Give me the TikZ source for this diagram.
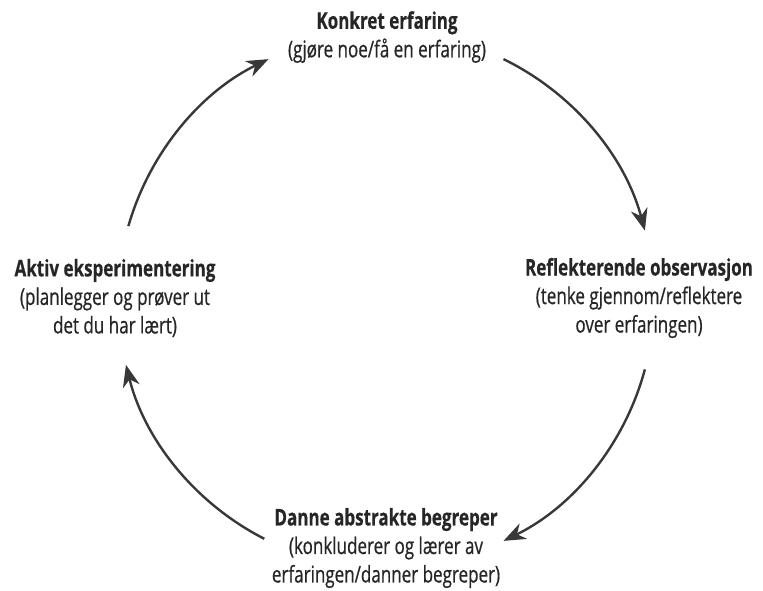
\documentclass[tikz,border=0pt]{standalone}
\usepackage{fontspec}
\setmainfont[FakeStretch=0.74,UprightFeatures={FakeBold=0.6},BoldFeatures={FakeBold=0.5}]{Open Sans}
\usetikzlibrary{arrows.meta,calc}

\begin{document}
\begin{tikzpicture}[
        x=1pt,y=1pt,
        stage/.style={align=center,text=black!85,inner sep=0pt,
            font=\fontsize{23}{28.5}\selectfont},
        cyclearrow/.style={line width=2.4pt,draw=black!78,
            -{Stealth[length=22pt,width=17pt,inset=7pt]}}
    ]
    \useasboundingbox (0,0) rectangle (763,590);
    \coordinate (c) at (386,290);

    \node[stage] (konkret) at (387,553)
        {\textbf{Konkret erfaring}\\(gjøre noe/få en erfaring)};
    \node[stage] (reflekt) at (639,292)
        {\textbf{Reflekterende observasjon}\\(tenke gjennom/reflektere\\over erfaringen)};
    \node[stage] (danne) at (386,42)
        {\textbf{Danne abstrakte begreper}\\(konkluderer og lærer av\\erfaringen/danner begreper)};
    \node[stage] (aktiv) at (115,292)
        {\textbf{Aktiv eksperimentering}\\(planlegger og prøver ut\\det du har lært)};

    % arc ends on the circle round (c)
    \coordinate (k-out) at ($(c)+(64:268)$);
    \coordinate (r-out) at ($(c)+(-15:268)$);
    \coordinate (d-out) at ($(c)+(-117:268)$);
    \coordinate (a-out) at ($(c)+(164:268)$);

    \draw[cyclearrow] (k-out) arc[start angle=64,end angle=15,radius=268pt];
    \draw[cyclearrow] (r-out) arc[start angle=-15,end angle=-64,radius=268pt];
    \draw[cyclearrow] (d-out) arc[start angle=-117,end angle=-166,radius=268pt];
    \draw[cyclearrow] (a-out) arc[start angle=164,end angle=116,radius=268pt];
\end{tikzpicture}
\end{document}
